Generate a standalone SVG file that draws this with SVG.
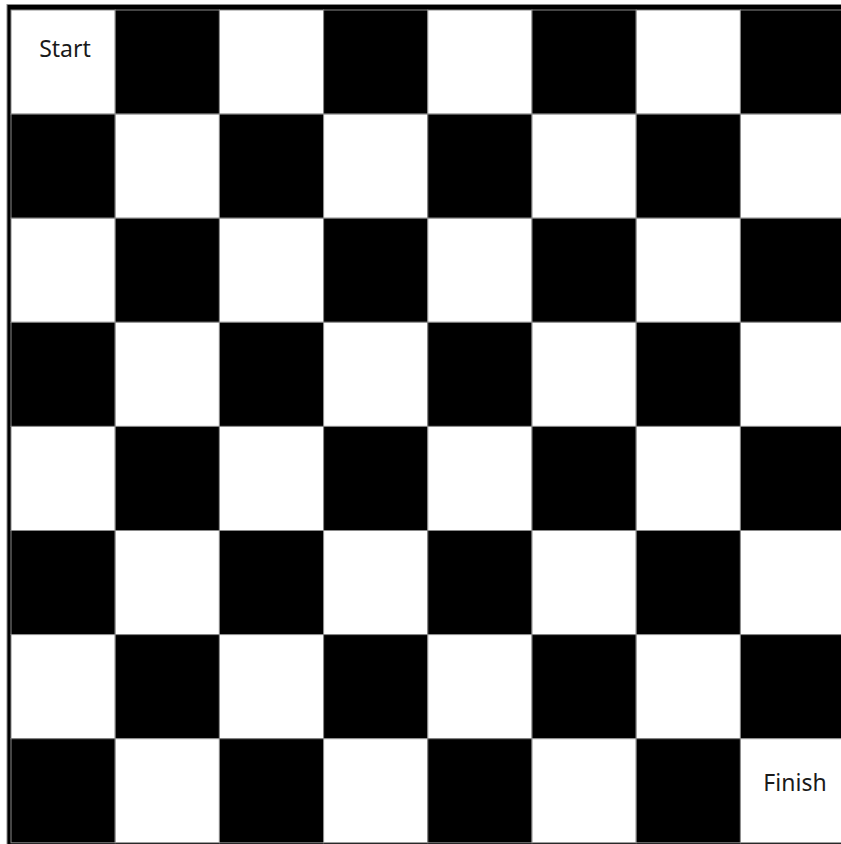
<svg xmlns="http://www.w3.org/2000/svg" width="841" height="844" viewBox="0 0 841 844">
<style>
.w{fill:#fff;stroke:#8a8a8a;stroke-width:1}
.b{fill:#000;stroke:#8a8a8a;stroke-width:1}
.t{font-family:"Noto Sans","Open Sans",sans-serif;font-size:23px;fill:#1a1a1a;text-anchor:middle}
</style>
<rect x="0" y="0" width="841" height="844" fill="#fff"/>
<rect x="7" y="4.5" width="840" height="845" fill="#000" stroke="#8a8a8a" stroke-width="1"/>
<g id="board">
<g id="row0">
<rect class="w" x="11" y="10" width="104.2" height="104.1"/><rect class="b" x="115.2" y="10" width="104.2" height="104.1"/><rect class="w" x="219.4" y="10" width="104.2" height="104.1"/><rect class="b" x="323.6" y="10" width="104.2" height="104.1"/><rect class="w" x="427.8" y="10" width="104.2" height="104.1"/><rect class="b" x="532" y="10" width="104.2" height="104.1"/><rect class="w" x="636.2" y="10" width="104.2" height="104.1"/><rect class="b" x="740.4" y="10" width="104.2" height="104.1"/>
</g>
<g id="row1">
<rect class="b" x="11" y="114.1" width="104.2" height="104.1"/><rect class="w" x="115.2" y="114.1" width="104.2" height="104.1"/><rect class="b" x="219.4" y="114.1" width="104.2" height="104.1"/><rect class="w" x="323.6" y="114.1" width="104.2" height="104.1"/><rect class="b" x="427.8" y="114.1" width="104.2" height="104.1"/><rect class="w" x="532" y="114.1" width="104.2" height="104.1"/><rect class="b" x="636.2" y="114.1" width="104.2" height="104.1"/><rect class="w" x="740.4" y="114.1" width="104.2" height="104.1"/>
</g>
<g id="row2">
<rect class="w" x="11" y="218.2" width="104.2" height="104.1"/><rect class="b" x="115.2" y="218.2" width="104.2" height="104.1"/><rect class="w" x="219.4" y="218.2" width="104.2" height="104.1"/><rect class="b" x="323.6" y="218.2" width="104.2" height="104.1"/><rect class="w" x="427.8" y="218.2" width="104.2" height="104.1"/><rect class="b" x="532" y="218.2" width="104.2" height="104.1"/><rect class="w" x="636.2" y="218.2" width="104.2" height="104.1"/><rect class="b" x="740.4" y="218.2" width="104.2" height="104.1"/>
</g>
<g id="row3">
<rect class="b" x="11" y="322.3" width="104.2" height="104.1"/><rect class="w" x="115.2" y="322.3" width="104.2" height="104.1"/><rect class="b" x="219.4" y="322.3" width="104.2" height="104.1"/><rect class="w" x="323.6" y="322.3" width="104.2" height="104.1"/><rect class="b" x="427.8" y="322.3" width="104.2" height="104.1"/><rect class="w" x="532" y="322.3" width="104.2" height="104.1"/><rect class="b" x="636.2" y="322.3" width="104.2" height="104.1"/><rect class="w" x="740.4" y="322.3" width="104.2" height="104.1"/>
</g>
<g id="row4">
<rect class="w" x="11" y="426.4" width="104.2" height="104.1"/><rect class="b" x="115.2" y="426.4" width="104.2" height="104.1"/><rect class="w" x="219.4" y="426.4" width="104.2" height="104.1"/><rect class="b" x="323.6" y="426.4" width="104.2" height="104.1"/><rect class="w" x="427.8" y="426.4" width="104.2" height="104.1"/><rect class="b" x="532" y="426.4" width="104.2" height="104.1"/><rect class="w" x="636.2" y="426.4" width="104.2" height="104.1"/><rect class="b" x="740.4" y="426.4" width="104.2" height="104.1"/>
</g>
<g id="row5">
<rect class="b" x="11" y="530.5" width="104.2" height="104.1"/><rect class="w" x="115.2" y="530.5" width="104.2" height="104.1"/><rect class="b" x="219.4" y="530.5" width="104.2" height="104.1"/><rect class="w" x="323.6" y="530.5" width="104.2" height="104.1"/><rect class="b" x="427.8" y="530.5" width="104.2" height="104.1"/><rect class="w" x="532" y="530.5" width="104.2" height="104.1"/><rect class="b" x="636.2" y="530.5" width="104.2" height="104.1"/><rect class="w" x="740.4" y="530.5" width="104.2" height="104.1"/>
</g>
<g id="row6">
<rect class="w" x="11" y="634.6" width="104.2" height="104.1"/><rect class="b" x="115.2" y="634.6" width="104.2" height="104.1"/><rect class="w" x="219.4" y="634.6" width="104.2" height="104.1"/><rect class="b" x="323.6" y="634.6" width="104.2" height="104.1"/><rect class="w" x="427.8" y="634.6" width="104.2" height="104.1"/><rect class="b" x="532" y="634.6" width="104.2" height="104.1"/><rect class="w" x="636.2" y="634.6" width="104.2" height="104.1"/><rect class="b" x="740.4" y="634.6" width="104.2" height="104.1"/>
</g>
<g id="row7">
<rect class="b" x="11" y="738.7" width="104.2" height="104.1"/><rect class="w" x="115.2" y="738.7" width="104.2" height="104.1"/><rect class="b" x="219.4" y="738.7" width="104.2" height="104.1"/><rect class="w" x="323.6" y="738.7" width="104.2" height="104.1"/><rect class="b" x="427.8" y="738.7" width="104.2" height="104.1"/><rect class="w" x="532" y="738.7" width="104.2" height="104.1"/><rect class="b" x="636.2" y="738.7" width="104.2" height="104.1"/><rect class="w" x="740.4" y="738.7" width="104.2" height="104.1"/>
</g>
</g>
<g id="start"><text class="t" x="65" y="57">Start</text></g>
<g id="finish"><text class="t" x="795" y="791">Finish</text></g>
</svg>
